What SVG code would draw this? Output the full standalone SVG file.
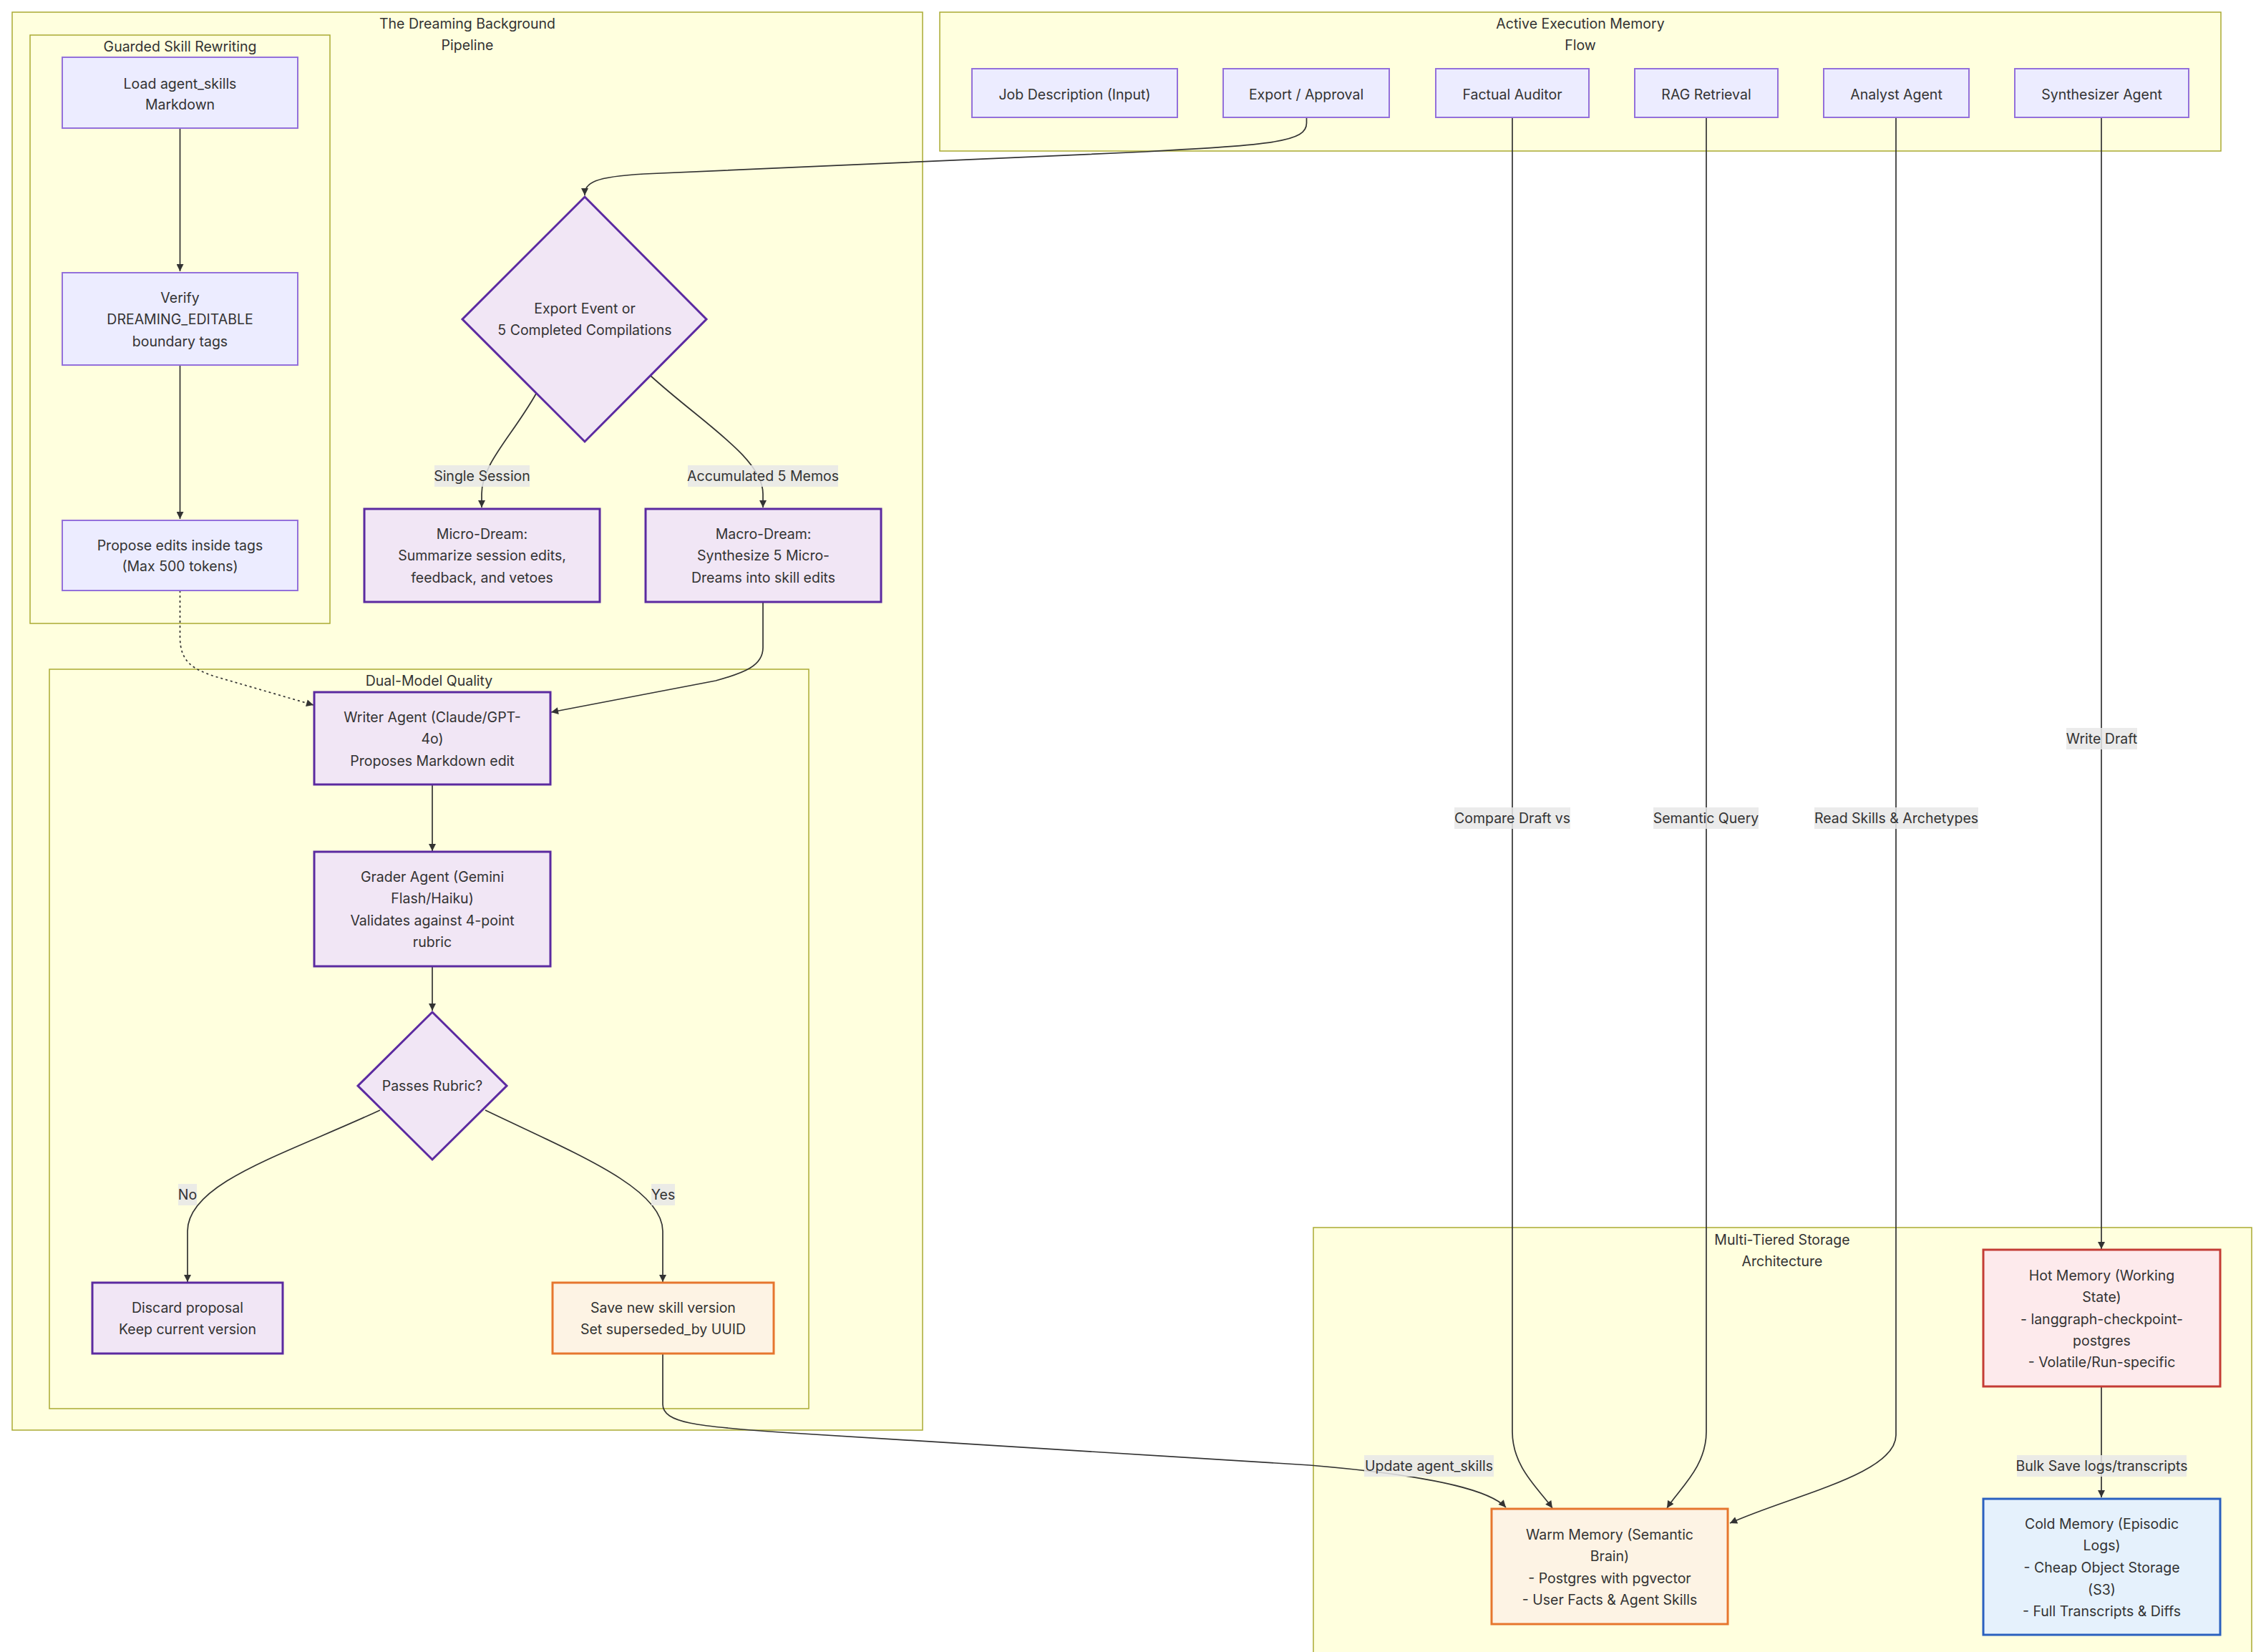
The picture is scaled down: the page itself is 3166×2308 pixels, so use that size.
<svg xmlns="http://www.w3.org/2000/svg" width="3166" height="2308" viewBox="0 0 3166 2308">
<style>
text{font-family:Inter,"Liberation Sans",Arial,sans-serif;font-size:19.5px;fill:#333333;text-anchor:middle;dominant-baseline:central}
.cl{fill:#ffffde;stroke:#aaaa33;stroke-width:1.5}
.def{fill:#ececff;stroke:#9370db;stroke-width:2}
.pur{fill:#f1e6f5;stroke:#5b2aa0;stroke-width:3}
.ora{fill:#fdf3e4;stroke:#e6762e;stroke-width:3}
.hot{fill:#fdeaec;stroke:#c43c35;stroke-width:3}
.cold{fill:#e5f1fc;stroke:#2a60bf;stroke-width:3}
.e{fill:none;stroke:#333333;stroke-width:1.7;marker-end:url(#arr)}
.dot{stroke-dasharray:3 4}
.lb{fill:#e8e8e8;fill-opacity:0.85}
</style>
<defs>
<marker id="arr" viewBox="0 0 10 10" refX="10" refY="5" markerWidth="11" markerHeight="10" markerUnits="userSpaceOnUse" orient="auto">
<path d="M0,0 L10,5 L0,10 z" fill="#333333"/>
</marker>
</defs>
<rect width="3166" height="2308" fill="#ffffff"/>

<g id="clusters">
<g id="cluster-dreaming">
<rect class="cl" x="17" y="17" width="1272" height="1981"/>
<text x="653" y="33">The Dreaming Background</text>
<text x="653" y="63">Pipeline</text>
</g>
<g id="cluster-guarded">
<rect class="cl" x="42" y="49" width="419" height="822"/>
<text x="251.5" y="65">Guarded Skill Rewriting</text>
</g>
<g id="cluster-dual">
<rect class="cl" x="69" y="935" width="1061" height="1033"/>
<text x="599.5" y="951">Dual-Model Quality</text>
</g>
<g id="cluster-active">
<rect class="cl" x="1313" y="17" width="1790" height="194"/>
<text x="2208" y="33">Active Execution Memory</text>
<text x="2208" y="63">Flow</text>
</g>
<g id="cluster-storage">
<rect class="cl" x="1835" y="1715" width="1311" height="620"/>
<text x="2490" y="1732">Multi-Tiered Storage</text>
<text x="2490" y="1762">Architecture</text>
</g>
</g>

<g id="connectors">
<path class="e" d="M251.5,180 L251.5,379"/>
<path class="e" d="M251.5,510 L251.5,725"/>
<path class="e dot" d="M251.5,825 L251.5,890 C251.5,925 270,935 300,945 L438,985"/>
<path class="e" d="M1825.5,164 L1825.5,172 C1825.5,198 1780,202 1600,212 L900,243 C830,247 817,255 817,273"/>
<path class="e" d="M749,550 C715,610 673,648 673,690 L673,709"/>
<path class="e" d="M909,525 C980,590 1066,640 1066,690 L1066,709"/>
<path class="e" d="M1066,841 L1066,905 C1066,930 1040,940 1000,951 L770,995"/>
<path class="e" d="M604,1096 L604,1189"/>
<path class="e" d="M604,1350 L604,1412"/>
<path class="e" d="M531,1551 C400,1612 262,1652 262,1720 L262,1791"/>
<path class="e" d="M678,1551 C805,1612 926,1660 926,1720 L926,1791"/>
<path class="e" d="M926,1891 L926,1962 C926,1988 975,1993 1090,2001 L1830,2047 C1960,2058 2075,2075 2104,2106"/>
<path class="e" d="M2113,164 L2113,2000 C2113,2050 2150,2080 2169,2107"/>
<path class="e" d="M2384,164 L2384,2000 C2384,2050 2346,2080 2329,2107"/>
<path class="e" d="M2649,164 L2649,2005 C2649,2060 2500,2090 2417,2128"/>
<path class="e" d="M2936,164 L2936,1745"/>
<path class="e" d="M2936,1937 L2936,2092"/>
</g>

<g id="edge-labels">
<rect class="lb" x="607" y="650" width="133" height="30"/><text x="673.5" y="665">Single Session</text>
<rect class="lb" x="961" y="650" width="210" height="30"/><text x="1066" y="665">Accumulated 5 Memos</text>
<rect class="lb" x="249" y="1654" width="26" height="30"/><text x="262" y="1669">No</text>
<rect class="lb" x="910" y="1654" width="33" height="30"/><text x="926.5" y="1669">Yes</text>
<rect class="lb" x="1906" y="2033" width="181" height="30"/><text x="1996.5" y="2048">Update agent_skills</text>
<rect class="lb" x="2818" y="2033" width="237" height="30"/><text x="2936.5" y="2048">Bulk Save logs/transcripts</text>
<rect class="lb" x="2032" y="1128" width="162" height="30"/><text x="2113" y="1143">Compare Draft vs</text>
<rect class="lb" x="2310" y="1128" width="147" height="30"/><text x="2383.5" y="1143">Semantic Query</text>
<rect class="lb" x="2535" y="1128" width="229" height="30"/><text x="2649.5" y="1143">Read Skills &amp; Archetypes</text>
<rect class="lb" x="2887" y="1017" width="99" height="30"/><text x="2936.5" y="1032">Write Draft</text>
</g>

<g id="node-load"><rect class="def" x="87" y="80" width="329" height="99"/>
<text x="251.5" y="116.5">Load agent_skills</text><text x="251.5" y="146">Markdown</text></g>
<g id="node-verify"><rect class="def" x="87" y="381" width="329" height="129"/>
<text x="251.5" y="416">Verify</text><text x="251.5" y="446">DREAMING_EDITABLE</text><text x="251.5" y="477">boundary tags</text></g>
<g id="node-propose"><rect class="def" x="87" y="727" width="329" height="98"/>
<text x="251.5" y="762">Propose edits inside tags</text><text x="251.5" y="791">(Max 500 tokens)</text></g>

<g id="node-trigger"><polygon class="pur" points="817,275 987,446 817,617 646,446"/>
<text x="817" y="431">Export Event or</text><text x="817" y="461">5 Completed Compilations</text></g>
<g id="node-micro"><rect class="pur" x="509" y="711" width="329" height="130"/>
<text x="673.5" y="746">Micro-Dream:</text><text x="673.5" y="776">Summarize session edits,</text><text x="673.5" y="807">feedback, and vetoes</text></g>
<g id="node-macro"><rect class="pur" x="902" y="711" width="329" height="130"/>
<text x="1066.5" y="746">Macro-Dream:</text><text x="1066.5" y="776">Synthesize 5 Micro-</text><text x="1066.5" y="807">Dreams into skill edits</text></g>

<g id="node-writer"><rect class="pur" x="439" y="967" width="330" height="129"/>
<text x="604" y="1002">Writer Agent (Claude/GPT-</text><text x="604" y="1032">4o)</text><text x="604" y="1063">Proposes Markdown edit</text></g>
<g id="node-grader"><rect class="pur" x="439" y="1190" width="330" height="160"/>
<text x="604" y="1225">Grader Agent (Gemini</text><text x="604" y="1255">Flash/Haiku)</text><text x="604" y="1286">Validates against 4-point</text><text x="604" y="1316">rubric</text></g>
<g id="node-passes"><polygon class="pur" points="604,1414 708,1517 604,1620 500,1517"/>
<text x="604" y="1517">Passes Rubric?</text></g>
<g id="node-discard"><rect class="pur" x="129" y="1792" width="266" height="99"/>
<text x="262" y="1827">Discard proposal</text><text x="262" y="1857">Keep current version</text></g>
<g id="node-save"><rect class="ora" x="772" y="1792" width="309" height="99"/>
<text x="926.5" y="1827">Save new skill version</text><text x="926.5" y="1857">Set superseded_by UUID</text></g>

<g id="node-job"><rect class="def" x="1358" y="96" width="287" height="68"/><text x="1501.5" y="132">Job Description (Input)</text></g>
<g id="node-export"><rect class="def" x="1709" y="96" width="232" height="68"/><text x="1825" y="132">Export / Approval</text></g>
<g id="node-factual"><rect class="def" x="2006" y="96" width="214" height="68"/><text x="2113" y="132">Factual Auditor</text></g>
<g id="node-rag"><rect class="def" x="2284" y="96" width="200" height="68"/><text x="2384" y="132">RAG Retrieval</text></g>
<g id="node-analyst"><rect class="def" x="2548" y="96" width="203" height="68"/><text x="2649.5" y="132">Analyst Agent</text></g>
<g id="node-synth"><rect class="def" x="2815" y="96" width="243" height="68"/><text x="2936.5" y="132">Synthesizer Agent</text></g>

<g id="node-hot"><rect class="hot" x="2771" y="1746" width="331" height="191"/>
<text x="2936.5" y="1782">Hot Memory (Working</text><text x="2936.5" y="1812">State)</text><text x="2936.5" y="1843">- langgraph-checkpoint-</text><text x="2936.5" y="1873">postgres</text><text x="2936.5" y="1903">- Volatile/Run-specific</text></g>
<g id="node-cold"><rect class="cold" x="2771" y="2094" width="331" height="190"/>
<text x="2936.5" y="2129">Cold Memory (Episodic</text><text x="2936.5" y="2159">Logs)</text><text x="2936.5" y="2190">- Cheap Object Storage</text><text x="2936.5" y="2221">(S3)</text><text x="2936.5" y="2251">- Full Transcripts &amp; Diffs</text></g>
<g id="node-warm"><rect class="ora" x="2084" y="2108" width="330" height="161"/>
<text x="2249" y="2144">Warm Memory (Semantic</text><text x="2249" y="2174">Brain)</text><text x="2249" y="2205">- Postgres with pgvector</text><text x="2249" y="2235">- User Facts &amp; Agent Skills</text></g>
</svg>
